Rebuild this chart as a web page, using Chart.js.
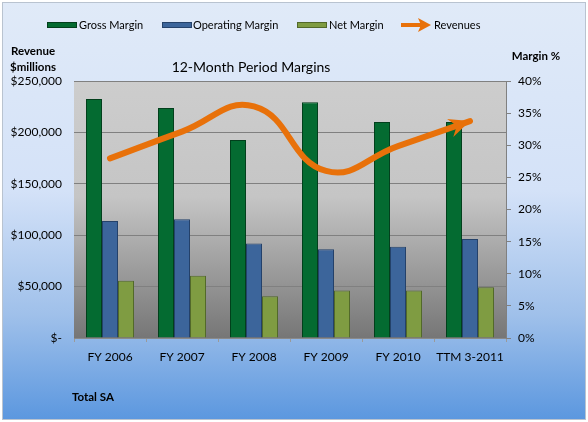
<!DOCTYPE html>
<html>
<head>
<meta charset="utf-8">
<script src="https://cdn.jsdelivr.net/npm/chart.js@4/dist/chart.umd.min.js"></script>
<style>
  html, body { margin: 0; padding: 0; background: #fff; }
  #wrap { width: 588px; height: 422px; }
</style>
</head>
<body>
<div id="wrap"><canvas id="marginChart" width="588" height="422"></canvas></div>
<script>
const categories = ['FY 2006', 'FY 2007', 'FY 2008', 'FY 2009', 'FY 2010', 'TTM 3-2011'];
const grossMargin = [37.2, 35.8, 30.8, 36.7, 33.6, 33.6];
const operatingMargin = [18.2, 18.5, 14.7, 13.8, 14.2, 15.4];
const netMargin = [8.9, 9.7, 6.5, 7.4, 7.4, 7.9];
const revenues = [174700, 200800, 225300, 162500, 186700, 211000];

const font = 'Lato';
const ctx = document.getElementById('marginChart').getContext('2d');

// backgrounds, titles, legend and the arrow head
const decor = {
  id: 'decor',
  beforeDraw(chart) {
    const c = chart.ctx;
    const a = chart.chartArea;
    c.save();
    c.fillStyle = '#fff';
    c.fillRect(0, 0, chart.width, chart.height);
    let g = c.createLinearGradient(0, 2, 0, 420);
    g.addColorStop(0, '#e0eaf8');
    g.addColorStop(0.45, '#d4e2f8');
    g.addColorStop(0.75, '#9fc0ea');
    g.addColorStop(1, '#5b97df');
    c.fillStyle = g;
    c.fillRect(2, 2, 584, 418);
    c.strokeStyle = '#b9c3d0';
    c.lineWidth = 1;
    c.strokeRect(2.5, 2.5, 583, 417);

    g = c.createLinearGradient(0, a.top, 0, a.bottom);
    g.addColorStop(0, '#cdcdcd');
    g.addColorStop(0.45, '#c5c5c5');
    g.addColorStop(1, '#767676');
    c.fillStyle = g;
    c.fillRect(a.left, a.top, a.right - a.left, a.bottom - a.top);
    c.restore();
  },
  afterDatasetsDraw(chart) {
    const c = chart.ctx;
    const meta = chart.getDatasetMeta(3);
    const pts = meta.data;
    const p = pts[pts.length - 1];
    let dx = p.x - p.cp1x, dy = p.y - p.cp1y;
    const len = Math.hypot(dx, dy) || 1;
    dx /= len; dy /= len;
    const nx = -dy, ny = dx;
    const L = 21, W = 9.5, N = 14;
    c.save();
    c.fillStyle = '#e8710a';
    c.beginPath();
    c.moveTo(p.x, p.y);
    c.lineTo(p.x - dx * L + nx * W, p.y - dy * L + ny * W);
    c.lineTo(p.x - dx * N, p.y - dy * N);
    c.lineTo(p.x - dx * L - nx * W, p.y - dy * L - ny * W);
    c.closePath();
    c.fill();
    c.restore();
  },
  afterDraw(chart) {
    const c = chart.ctx;
    c.save();
    c.fillStyle = '#000';
    c.textBaseline = 'middle';

    c.font = '14px "' + font + '"';
    c.textAlign = 'center';
    c.fillText('12-Month Period Margins', 251, 67);

    c.font = 'bold 11.5px "' + font + '"';
    c.fillText('Revenue', 33, 51);
    c.fillText('$millions', 33, 67);
    c.fillText('Margin %', 536, 56);
    c.textAlign = 'left';
    c.fillText('Total SA', 72, 397);

    // legend
    c.font = '11px "' + font + '"';
    const ds = chart.data.datasets;
    const items = [
      { x: 47, text: 79, d: ds[0] },
      { x: 162, text: 193, d: ds[1] },
      { x: 297, text: 329, d: ds[2] }
    ];
    items.forEach(it => {
      c.fillStyle = it.d.borderColor;
      c.fillRect(it.x, 22, 30, 6);
      c.fillStyle = it.d.backgroundColor;
      c.fillRect(it.x + 1, 23, 28, 4);
      c.fillStyle = '#000';
      c.fillText(it.d.label, it.text, 25);
    });
    c.strokeStyle = '#e8710a';
    c.fillStyle = '#e8710a';
    c.lineWidth = 4;
    c.beginPath();
    c.moveTo(401, 25);
    c.lineTo(421, 25);
    c.stroke();
    c.beginPath();
    c.moveTo(431, 25);
    c.lineTo(418, 18);
    c.lineTo(421, 25);
    c.lineTo(418, 32);
    c.closePath();
    c.fill();
    c.fillStyle = '#000';
    c.fillText(ds[3].label, 434, 25);
    c.restore();
  }
};

const marginChart = new Chart(ctx, {
  type: 'bar',
  data: {
    labels: categories,
    datasets: [{
      label: 'Gross Margin',
      data: grossMargin,
      backgroundColor: '#046b31',
      borderColor: '#023f1c',
      borderWidth: 1,
      yAxisID: 'y1',
      order: 1
    }, {
      label: 'Operating Margin',
      data: operatingMargin,
      backgroundColor: '#3c659b',
      borderColor: '#25426a',
      borderWidth: 1,
      yAxisID: 'y1',
      order: 1
    }, {
      label: 'Net Margin',
      data: netMargin,
      backgroundColor: '#7f9c42',
      borderColor: '#52692a',
      borderWidth: 1,
      yAxisID: 'y1',
      order: 1
    }, {
      type: 'line',
      label: 'Revenues',
      data: revenues,
      borderColor: '#e8710a',
      borderWidth: 6,
      borderCapStyle: 'round',
      tension: 0.45,
      pointRadius: 0,
      fill: false,
      yAxisID: 'y',
      order: 0
    }]
  },
  options: {
    responsive: false,
    animation: false,
    datasets: {
      bar: { categoryPercentage: 0.667, barPercentage: 1.0 }
    },
    layout: { padding: { top: 81, left: 0, right: 0, bottom: 0 } },
    plugins: {
      legend: { display: false },
      title: { display: false },
      tooltip: { enabled: false }
    },
    scales: {
      x: {
        grid: { drawOnChartArea: false, tickLength: 4, color: '#9a9a9a' },
        border: { color: '#8a8a8a' },
        ticks: {
          padding: 8,
          maxRotation: 0,
          minRotation: 0,
          autoSkip: false,
          color: '#000',
          font: { family: font, size: 12 }
        },
        afterFit: s => { s.height = 84; }
      },
      y: {
        position: 'left',
        min: 0,
        max: 250000,
        ticks: {
          stepSize: 50000,
          padding: 12,
          color: '#000',
          font: { family: font, size: 12 },
          callback: v => v === 0 ? '$-' : '$' + v.toLocaleString('en-US')
        },
        grid: { color: '#808080', drawTicks: false },
        border: { display: false },
        afterFit: s => { s.width = 74; }
      },
      y1: {
        position: 'right',
        min: 0,
        max: 40,
        ticks: {
          stepSize: 5,
          padding: 7,
          color: '#000',
          font: { family: font, size: 12 },
          callback: v => v + '%'
        },
        grid: { drawOnChartArea: false, tickLength: 5, color: '#808080' },
        border: { color: '#808080' },
        afterFit: s => { s.width = 82; }
      }
    }
  },
  plugins: [decor]
});
</script>
</body>
</html>
